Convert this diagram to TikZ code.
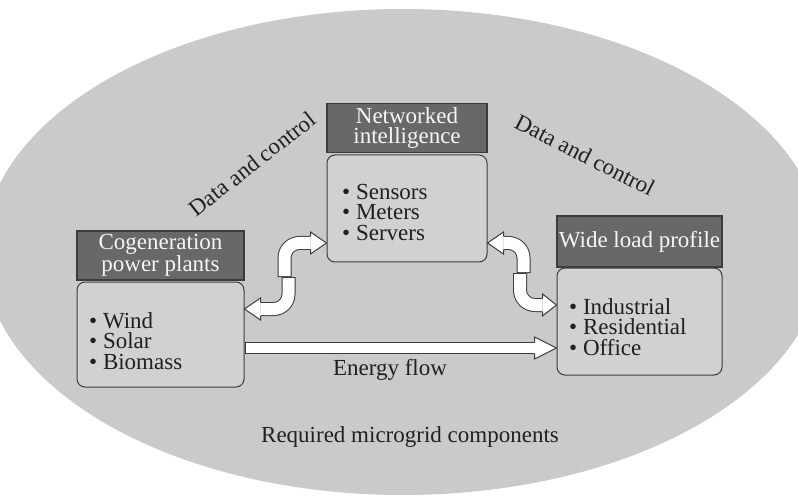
\documentclass[tikz,border=0pt]{standalone}
\usepackage{fontspec}
\setmainfont{Liberation Serif}
\usetikzlibrary{calc}
\definecolor{ellgray}{RGB}{201,202,204}
\definecolor{bodygray}{RGB}{208,209,211}
\definecolor{headgray}{RGB}{104,104,106}
\definecolor{edgegray}{RGB}{60,60,62}
\definecolor{txtcol}{RGB}{32,32,34}
\newcommand\fatshaft[2]{%
  \draw[edgegray,line width=#1pt,rounded corners=15pt] #2;
  \draw[white,line width=#1pt-2pt,rounded corners=15pt,shorten <=1pt] #2;}
% right-pointing head: tip coordinate, length, shaft half width
\newcommand\headR[3]{%
  \fill[white] ($(#1)+(-#2,-11)$) -- (#1) -- ($(#1)+(-#2,11)$) -- cycle;
  \draw[edgegray,line width=1pt,line join=miter] ($(#1)+(-#2,-#3)$) -- ($(#1)+(-#2,-11)$) -- (#1) -- ($(#1)+(-#2,11)$) -- ($(#1)+(-#2,#3)$);}
\newcommand\headL[3]{%
  \fill[white] ($(#1)+(#2,-11)$) -- (#1) -- ($(#1)+(#2,11)$) -- cycle;
  \draw[edgegray,line width=1pt,line join=miter] ($(#1)+(#2,-#3)$) -- ($(#1)+(#2,-11)$) -- (#1) -- ($(#1)+(#2,11)$) -- ($(#1)+(#2,#3)$);}
\begin{document}
\begin{tikzpicture}[x=1pt,y=-1pt,
  header/.style={draw=edgegray, line width=1.2pt, fill=headgray, text=white!93!gray,
    align=center, font=\fontsize{23}{20}\selectfont, inner sep=0pt},
  body/.style={draw=edgegray, line width=1pt, fill=bodygray, rounded corners=8pt, inner sep=0pt},
  lst/.style={anchor=west, align=left, font=\fontsize{23}{20.5}\selectfont, text=txtcol, inner sep=0pt},
  lbl/.style={font=\fontsize{23}{21}\selectfont, text=txtcol, inner sep=0pt}]
\useasboundingbox (0,0) rectangle (798,497);
\fill[white] (0,0) rectangle (798,497);
\fill[ellgray] (403,252) ellipse [x radius=420pt, y radius=243pt];

% boxes
\node[header, minimum width=160pt, minimum height=49pt] (net) at (407,128) {Networked\\intelligence};
\node[body, minimum width=160pt, minimum height=107pt] (netb) at (407,208.5) {};
\node[lst] (netl) at (342,212) {• Sensors\\• Meters\\• Servers};

\node[header, minimum width=167pt, minimum height=49pt] (cog) at (160.5,255.5) {Cogeneration\\power plants};
\node[body, minimum width=167pt, minimum height=105pt] (cogb) at (160.5,334.5) {};
\node[lst] (cogl) at (89,341) {• Wind\\• Solar\\• Biomass};

\node[header, minimum width=165pt, minimum height=51pt] (wide) at (639.5,241.5) {Wide load profile};
\node[body, minimum width=165pt, minimum height=107pt] (wideb) at (639.5,321.5) {};
\node[lst] (widel) at (569,327) {• Industrial\\• Residential\\• Office};

% labels
\node[lbl, rotate=38] (dc1) at (252,164) {Data and control};
\node[lbl, rotate=-27] (dc2) at (585,155) {Data and control};
\node[lbl] (ef) at (390,370) {Energy flow};
\node[lbl] (req) at (410,437) {Required microgrid components};

% tips
\coordinate (tL1) at (netb.west |- 0,243);
\coordinate (tL2) at (cogb.east |- 0,309);
\coordinate (tR1) at (netb.east |- 0,243);
\coordinate (tR2) at (wideb.west |- 0,305);
\coordinate (tE) at (wideb.west |- 0,348);
\coordinate (sE) at (cogb.east |- 0,348);

% left double arrow
\fatshaft{14}{(284.5,277) -- (284.5,243) -- ($(tL1)+(-16,0)$)}
\headR{tL1}{16}{6.5}
\fatshaft{14}{(288.5,277) -- (288.5,309) -- ($(tL2)+(16,0)$)}
\headL{tL2}{16}{6.5}

% right double arrow
\fatshaft{14}{(523.5,273) -- (523.5,243) -- ($(tR1)+(16,0)$)}
\headL{tR1}{16}{6.5}
\fatshaft{14}{(520,273) -- (520,305) -- ($(tR2)+(-14,0)$)}
\headR{tR2}{14}{6.5}

% energy flow
\fatshaft{12}{(sE) -- ($(tE)+(-22,0)$)}
\headR{tE}{22}{5.5}
\end{tikzpicture}
\end{document}
